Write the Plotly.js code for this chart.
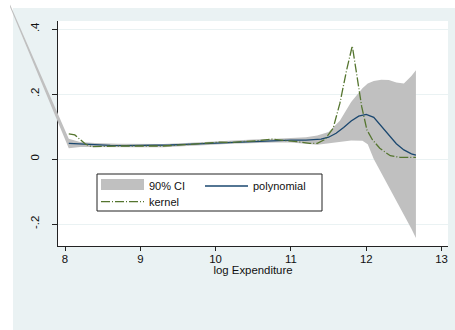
<!DOCTYPE html>
<html><head><meta charset="utf-8">
<script src="https://cdn.plot.ly/plotly-3.0.1.min.js"></script>
<style>html,body{margin:0;padding:0;background:#fff}#chart{width:455px;height:330px}</style>
</head><body><div id="chart"></div>
<script>
// ---- data ----
const ciX  = [7.27, 8.05, 8.2, 8.4, 8.7, 9.0, 9.3, 9.6, 9.9, 10.2, 10.5, 10.8, 11.0, 11.2, 11.35, 11.5, 11.65, 11.8, 11.95, 12.02, 12.1, 12.2, 12.3, 12.4, 12.5, 12.6, 12.66];
const ciHi = [0.475, 0.062, 0.052, 0.049, 0.047, 0.046, 0.046, 0.049, 0.053, 0.057, 0.060, 0.062, 0.064, 0.067, 0.072, 0.083, 0.118, 0.175, 0.218, 0.232, 0.240, 0.244, 0.243, 0.235, 0.232, 0.255, 0.273];
const ciLo = [0.468, 0.033, 0.037, 0.037, 0.036, 0.036, 0.036, 0.039, 0.043, 0.047, 0.050, 0.051, 0.051, 0.047, 0.044, 0.047, 0.052, 0.057, 0.056, 0.045, 0.0, -0.043, -0.086, -0.129, -0.172, -0.215, -0.243];

const polyX = [8.05, 8.2, 8.4, 8.6, 8.8, 9.0, 9.2, 9.4, 9.6, 9.8, 10.0, 10.2, 10.4, 10.6, 10.8, 11.0, 11.2, 11.3, 11.4, 11.5, 11.6, 11.7, 11.8, 11.9, 12.0, 12.1, 12.2, 12.3, 12.4, 12.5, 12.6, 12.66];
const polyY = [0.048, 0.046, 0.043, 0.042, 0.041, 0.041, 0.041, 0.043, 0.045, 0.047, 0.050, 0.052, 0.054, 0.056, 0.057, 0.058, 0.058, 0.059, 0.061, 0.067, 0.079, 0.097, 0.117, 0.132, 0.137, 0.128, 0.100, 0.072, 0.047, 0.028, 0.016, 0.012];

const kernX = [8.05, 8.13, 8.2, 8.27, 8.35, 8.5, 8.7, 9.0, 9.3, 9.6, 9.9, 10.05, 10.2, 10.4, 10.6, 10.75, 10.9, 11.1, 11.25, 11.35, 11.45, 11.56, 11.65, 11.74, 11.815, 11.87, 11.94, 12.01, 12.08, 12.18, 12.32, 12.45, 12.66];
const kernY = [0.077, 0.074, 0.060, 0.046, 0.038, 0.039, 0.040, 0.040, 0.040, 0.044, 0.050, 0.052, 0.051, 0.053, 0.057, 0.061, 0.058, 0.053, 0.048, 0.048, 0.060, 0.094, 0.171, 0.274, 0.348, 0.264, 0.161, 0.089, 0.060, 0.033, 0.010, 0.005, 0.005];

const xTickVals = [8, 9, 10, 11, 12, 13];
const yTickVals = [-0.2, 0, 0.2, 0.4];
const yTickText = ['-.2', '0', '.2', '.4'];
const seriesNames = ['90% CI', 'polynomial', 'kernel'];
const xTitle = 'log Expenditure';

// ---- geometry / style ----
const W = 455, H = 330, L = 58, R = 448, T = 21, B = 246;
const xr = [7.907, 13.086], yr = [-0.2677, 0.4246];
const sx = (xr[1] - xr[0]) / (R - L), sy = (yr[1] - yr[0]) / (B - T);
const x2r = [xr[0] - L * sx, xr[1] + (W - R) * sx];
const y2r = [yr[0] - (H - B) * sy, yr[1] + T * sy];
const FONT = 'Liberation Sans, Arial, Helvetica, sans-serif';
const TXT = '#111';
const AX = '#222';
const CI_COLOR = '#c0c0c0';
const tickFont = {family: FONT, size: 11.4, color: TXT};

const traces = [
  {type: 'scatter', x: [], y: [], xaxis: 'x', yaxis: 'y', showlegend: false, hoverinfo: 'skip'},
  {type: 'scatter', x: [], y: [], xaxis: 'x3', yaxis: 'y', showlegend: false, hoverinfo: 'skip'},
  {type: 'scatter', x: [], y: [], xaxis: 'x', yaxis: 'y3', showlegend: false, hoverinfo: 'skip'},
  {type: 'scatter', mode: 'lines', name: seriesNames[0], xaxis: 'x2', yaxis: 'y2',
   x: ciX.concat(ciX.slice().reverse()), y: ciHi.concat(ciLo.slice().reverse()),
   fill: 'toself', fillcolor: CI_COLOR, line: {width: 0, color: CI_COLOR}, showlegend: false},
  // legend entry for the band (a single point: draws nothing in the plot)
  {type: 'scatter', mode: 'lines', name: seriesNames[0], xaxis: 'x2', yaxis: 'y2',
   x: [ciX[0]], y: [ciHi[0]], fill: 'toself', fillcolor: CI_COLOR,
   line: {width: 10, color: CI_COLOR}, legend: 'legend', hoverinfo: 'skip'},
  {type: 'scatter', mode: 'lines', name: seriesNames[1], xaxis: 'x2', yaxis: 'y2',
   x: polyX, y: polyY, line: {color: 'rgb(26,71,111)', width: 1.3}, legend: 'legend2'},
  {type: 'scatter', mode: 'lines', name: seriesNames[2], xaxis: 'x2', yaxis: 'y2',
   x: kernX, y: kernY, line: {color: 'rgb(85,117,47)', width: 1.3, dash: '9px,2px,1px,2px'}, legend: 'legend3'}
];

const legendBase = {xanchor: 'left', yanchor: 'top', bgcolor: 'rgba(0,0,0,0)', borderwidth: 0,
  font: {family: FONT, size: 11, color: TXT}, itemwidth: 43};

const layout = {
  width: W, height: H,
  margin: {l: 0, r: 0, t: 0, b: 0},
  paper_bgcolor: '#ffffff', plot_bgcolor: 'rgba(0,0,0,0)',
  font: {family: FONT, size: 11.4, color: TXT},
  showlegend: true,
  xaxis: {domain: [L / W, R / W], range: xr, anchor: 'y', tickvals: xTickVals,
    ticks: 'outside', ticklen: 4, tickcolor: AX, tickwidth: 1, showticklabels: false,
    showline: true, linecolor: AX, linewidth: 1, showgrid: false, zeroline: false,
    title: {text: xTitle, font: tickFont, standoff: 16}},
  xaxis3: {overlaying: 'x', anchor: 'free', position: 1 - (B + 5) / H, range: xr, tickvals: xTickVals,
    ticks: '', showline: false, showgrid: false, zeroline: false, tickfont: tickFont},
  yaxis: {domain: [1 - B / H, 1 - T / H], range: yr, anchor: 'x', tickvals: yTickVals,
    ticks: 'outside', ticklen: 5, tickcolor: AX, tickwidth: 1, showticklabels: false,
    showline: true, linecolor: AX, linewidth: 1, showgrid: true, gridcolor: '#eaf2f3', gridwidth: 1,
    zeroline: false},
  yaxis3: {overlaying: 'y', anchor: 'free', position: (L - 17) / W, side: 'left', range: yr,
    tickvals: yTickVals, ticktext: yTickText, tickangle: -90, ticks: '',
    showline: false, showgrid: false, zeroline: false, tickfont: tickFont},
  xaxis2: {domain: [0, 1], range: x2r, anchor: 'y2', visible: false},
  yaxis2: {domain: [0, 1], range: y2r, anchor: 'x2', visible: false},
  legend: Object.assign({}, legendBase, {x: 96 / W, y: 1 - 171.5 / H}),
  legend2: Object.assign({}, legendBase, {x: 200 / W, y: 1 - 171.5 / H}),
  legend3: Object.assign({}, legendBase, {x: 96 / W, y: 1 - 187.2 / H}),
  shapes: [
    {type: 'rect', xref: 'paper', yref: 'paper', x0: 13 / W, x1: 1, y0: 0, y1: 1 - 8 / H,
     fillcolor: '#eaf2f3', line: {width: 0}, layer: 'below'},
    {type: 'rect', xref: 'paper', yref: 'paper', x0: L / W, x1: R / W, y0: 1 - B / H, y1: 1 - T / H,
     fillcolor: '#ffffff', line: {width: 0}, layer: 'below'},
    {type: 'rect', xref: 'paper', yref: 'paper', x0: 97 / W, x1: 322 / W, y0: 1 - 211 / H, y1: 1 - 174 / H,
     fillcolor: '#ffffff', line: {width: 1, color: AX}, layer: 'below'}
  ]
};

Plotly.newPlot('chart', traces, layout, {staticPlot: true, displayModeBar: false});
</script>
</body></html>
